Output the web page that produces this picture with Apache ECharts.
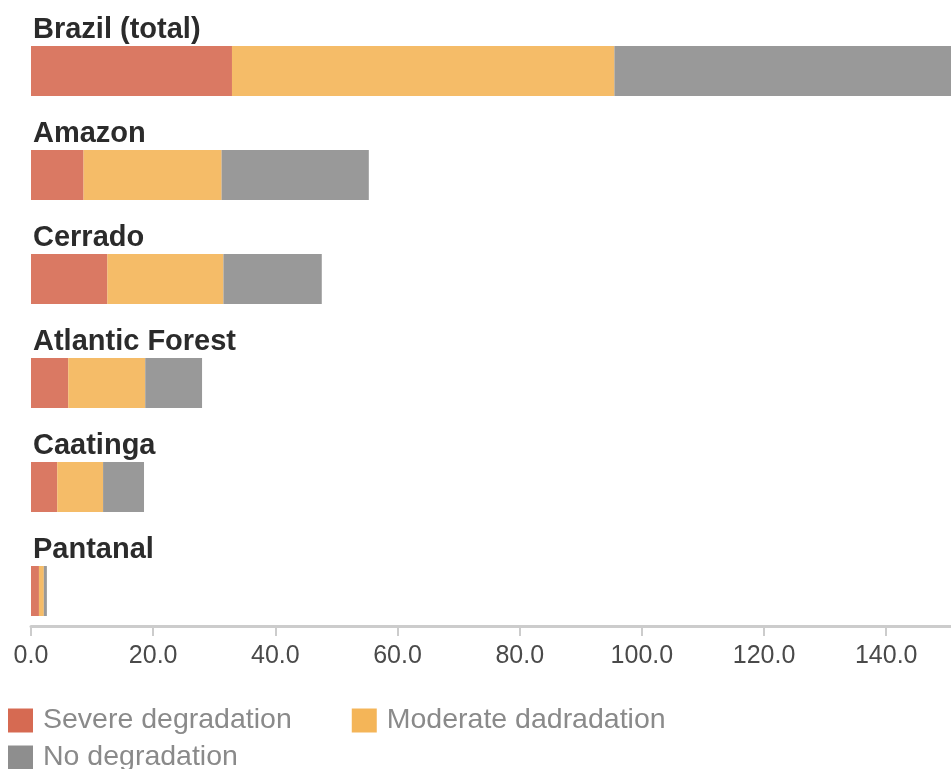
<!DOCTYPE html>
<html>
<head>
<meta charset="utf-8">
<script src="https://cdn.jsdelivr.net/npm/echarts@6/dist/echarts.min.js"></script>
<style>html,body{margin:0;padding:0;background:#fff}#c{width:951px;height:769px}</style>
</head>
<body>
<div id="c"></div>
<script>
const categories = ['Brazil (total)', 'Amazon', 'Cerrado', 'Atlantic Forest', 'Caatinga', 'Pantanal'];
const severe = [32.9, 8.6, 12.5, 6.1, 4.3, 1.3];
const moderate = [62.6, 22.6, 19.0, 12.6, 7.5, 0.8];
const noDeg = [55.1, 24.1, 16.1, 9.3, 6.7, 0.5];
const seriesNames = ['Severe degradation', 'Moderate dadradation', 'No degradation'];
const colors = ['#d66a52', '#f4b558', '#8e8e8e'];
const tickValues = [0, 20, 40, 60, 80, 100, 120, 140];
const xMax = 150.6;

const font = '"Liberation Sans", Arial, sans-serif';
const chart = echarts.init(document.getElementById('c'), null, {renderer: 'canvas'});
const values = [severe, moderate, noDeg];
const legendCommon = {
  left: 8, orient: 'horizontal', padding: 0, itemWidth: 25, itemHeight: 24, itemGap: 60,
  icon: 'rect', itemStyle: {opacity: 1},
  textStyle: {fontFamily: font, fontSize: 28.5, color: '#8a8a8a', padding: [0, 0, 0, 5]}
};
chart.setOption({
  animation: false,
  color: colors,
  legend: [
    Object.assign({}, legendCommon, {top: 706, data: [seriesNames[0], seriesNames[1]]}),
    Object.assign({}, legendCommon, {top: 743, data: [seriesNames[2]]})
  ],
  grid: {left: 31, right: 0, top: 19, height: 624, containLabel: false},
  xAxis: {
    type: 'value', min: 0, max: xMax, offset: -17,
    splitLine: {show: false},
    axisLine: {show: true, lineStyle: {color: '#cccccc', width: 3}},
    axisTick: {show: true, length: 10, customValues: tickValues, lineStyle: {color: '#cccccc', width: 2}},
    axisLabel: {customValues: tickValues, margin: 18, fontFamily: font, fontSize: 25, color: '#4a4a4a',
      formatter: v => v.toFixed(1)}
  },
  yAxis: {
    type: 'category', inverse: true, data: categories, z: 5,
    axisLine: {show: false}, axisTick: {show: false},
    axisLabel: {inside: true, margin: 2, align: 'left', verticalAlign: 'middle',
      formatter: v => '{t|' + v + '}\n{s|}',
      rich: {
        t: {fontFamily: font, fontSize: 29, fontWeight: 'bold', color: '#2b2b2b', lineHeight: 28},
        s: {lineHeight: 82, fontSize: 10}
      }}
  },
  series: seriesNames.map((n, i) => ({
    name: n, type: 'bar', stack: 'total', barWidth: 50, data: values[i],
    itemStyle: {color: colors[i], opacity: 0.9}
  }))
});
</script>
</body>
</html>
